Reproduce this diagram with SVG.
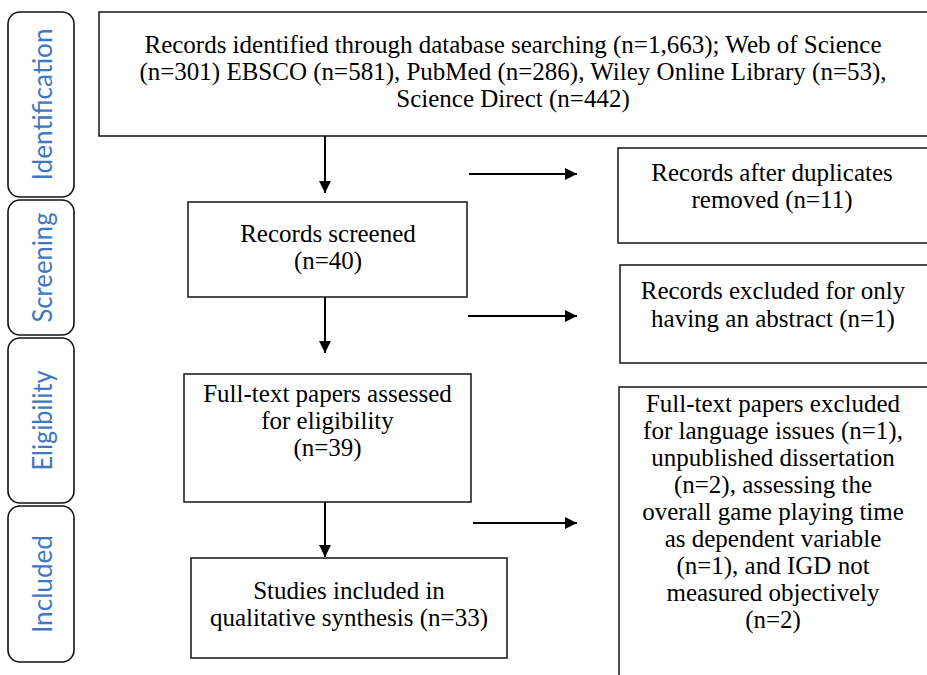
<svg xmlns="http://www.w3.org/2000/svg" width="927" height="675" viewBox="0 0 927 675">
<defs>
<style>
.box{fill:#fff;stroke:#222;stroke-width:1.6}
.side{fill:#fff;stroke:#111;stroke-width:1.6}
.t{font-family:"Liberation Serif","Times New Roman",serif;font-size:25px;fill:#000;text-anchor:middle}
.s{font-family:Lato,"Open Sans",sans-serif;font-size:26px;fill:#3F77C2;text-anchor:middle}
.c{stroke:#000;stroke-width:2;fill:none;marker-end:url(#ah)}
</style>
<marker id="ah" markerUnits="userSpaceOnUse" markerWidth="13" markerHeight="12" refX="12" refY="6" orient="auto">
<path d="M0,0 L12,6 L0,12 z" fill="#000"/>
</marker>
</defs>
<rect width="927" height="675" fill="#fff"/>
<g id="phase-identification"><rect class="side" x="8" y="12" width="66" height="185" rx="12"/><text class="s" transform="translate(52,104.5) rotate(-90)" textLength="152" lengthAdjust="spacingAndGlyphs">Identification</text></g>
<g id="phase-screening"><rect class="side" x="8" y="200" width="66" height="135" rx="12"/><text class="s" transform="translate(52,267.5) rotate(-90)" textLength="110" lengthAdjust="spacingAndGlyphs">Screening</text></g>
<g id="phase-eligibility"><rect class="side" x="8" y="338" width="66" height="165" rx="12"/><text class="s" transform="translate(52,420.5) rotate(-90)" textLength="100" lengthAdjust="spacingAndGlyphs">Eligibility</text></g>
<g id="phase-included"><rect class="side" x="8" y="506" width="66" height="156" rx="12"/><text class="s" transform="translate(52,584) rotate(-90)" textLength="98" lengthAdjust="spacingAndGlyphs">Included</text></g>
<g id="identified"><rect class="box" x="99" y="12" width="840" height="124"/>
<text class="t" x="513" y="53">Records identified through database searching (n=1,663); Web of Science</text>
<text class="t" x="513" y="80">(n=301) EBSCO (n=581), PubMed (n=286), Wiley Online Library (n=53),</text>
<text class="t" x="513" y="107">Science Direct (n=442)</text></g>
<g id="screened"><rect class="box" x="188" y="202" width="279" height="95"/>
<text class="t" x="328" y="242">Records screened</text>
<text class="t" x="328" y="269">(n=40)</text></g>
<g id="duplicates"><rect class="box" x="618" y="148" width="320" height="95"/>
<text class="t" x="772" y="181">Records after duplicates</text>
<text class="t" x="772" y="208">removed (n=11)</text></g>
<g id="abstract"><rect class="box" x="620" y="265" width="320" height="98"/>
<text class="t" x="773" y="299">Records excluded for only</text>
<text class="t" x="773" y="327">having an abstract (n=1)</text></g>
<g id="eligibility"><rect class="box" x="184" y="374" width="287" height="128"/>
<text class="t" x="327.5" y="402">Full-text papers assessed</text>
<text class="t" x="327.5" y="429">for eligibility</text>
<text class="t" x="327.5" y="456">(n=39)</text></g>
<g id="included"><rect class="box" x="191" y="558" width="316" height="100"/>
<text class="t" x="349" y="599">Studies included in</text>
<text class="t" x="349" y="626">qualitative synthesis (n=33)</text></g>
<g id="fulltext-excluded"><rect class="box" x="619" y="387" width="320" height="300"/>
<text class="t" x="773" y="412">Full-text papers excluded</text>
<text class="t" x="773" y="439">for language issues (n=1),</text>
<text class="t" x="773" y="466">unpublished dissertation</text>
<text class="t" x="773" y="493">(n=2), assessing the</text>
<text class="t" x="773" y="520">overall game playing time</text>
<text class="t" x="773" y="547">as dependent variable</text>
<text class="t" x="773" y="574">(n=1), and IGD not</text>
<text class="t" x="773" y="601">measured objectively</text>
<text class="t" x="773" y="628">(n=2)</text></g>
<g id="connectors">
<line class="c" x1="325" y1="136" x2="325" y2="193"/>
<line class="c" x1="325" y1="297" x2="325" y2="353"/>
<line class="c" x1="325" y1="502" x2="325" y2="557"/>
<line class="c" x1="469" y1="174" x2="577" y2="174"/>
<line class="c" x1="468" y1="316" x2="577" y2="316"/>
<line class="c" x1="473" y1="523" x2="577" y2="523"/>
</g>
</svg>
